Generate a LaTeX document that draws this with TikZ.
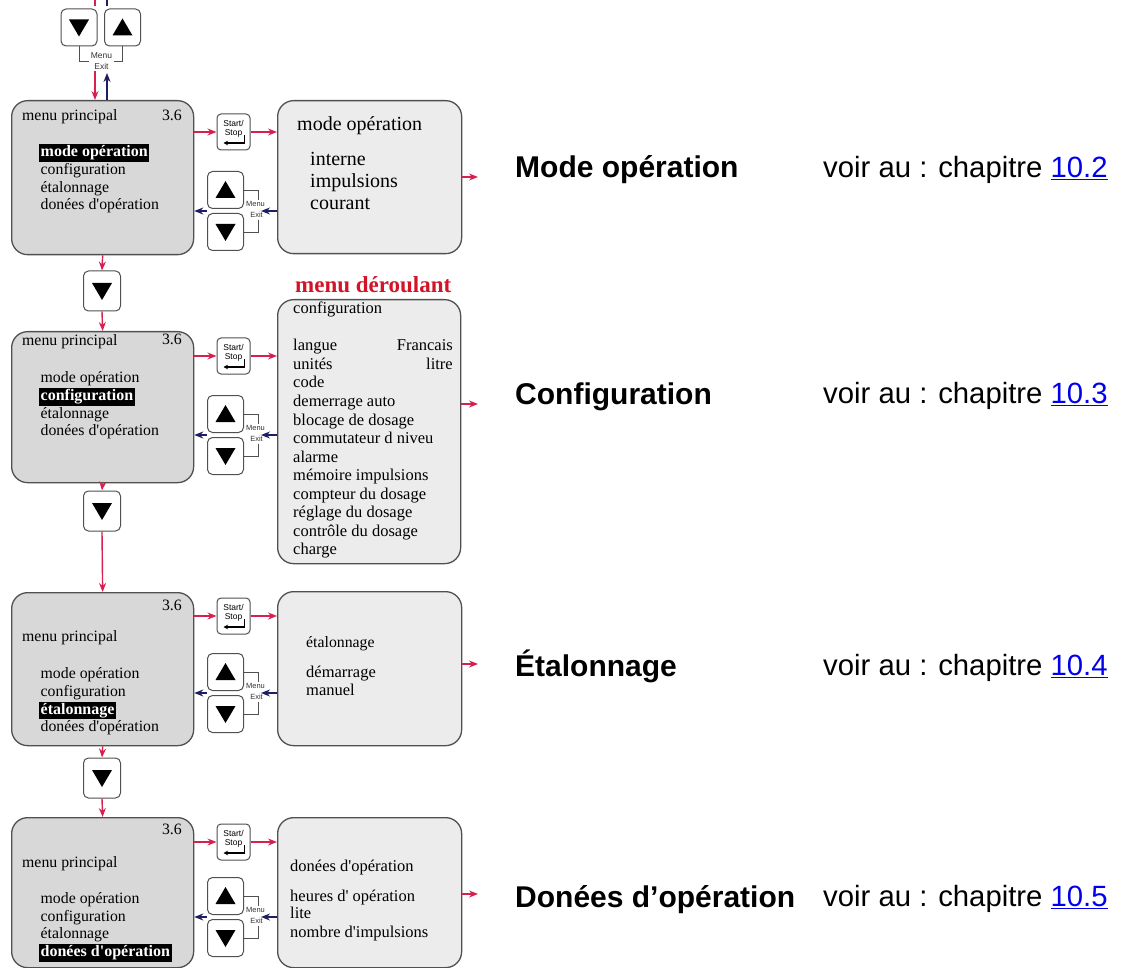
\documentclass[tikz,border=0pt]{standalone}
\usepackage{fontspec}
\setmainfont{Liberation Serif}[Ligatures=TeXOff]
\newfontfamily\arialf{Liberation Sans}
\usetikzlibrary{arrows.meta}

\definecolor{redarr}{RGB}{214,32,78}
\definecolor{bluearr}{RGB}{30,30,100}
\definecolor{boxline}{RGB}{80,80,80}
\definecolor{mainfill}{RGB}{216,216,216}
\definecolor{subfill}{RGB}{236,236,236}
\definecolor{linkblue}{RGB}{0,0,238}
\definecolor{titlered}{RGB}{210,20,40}

\tikzset{
  mainbox/.style={draw=boxline, line width=1.3pt, rounded corners=16pt, fill=mainfill, inner sep=0pt, anchor=north west},
  subbox/.style={draw=boxline, line width=1.3pt, rounded corners=16pt, fill=subfill, inner sep=0pt, anchor=north west},
  btn/.style={draw=boxline, line width=1pt, rounded corners=5pt, fill=white, minimum width=36pt, minimum height=37pt, inner sep=0pt},
  ssbtn/.style={draw=boxline, line width=1pt, rounded corners=4pt, fill=white, minimum width=33pt, minimum height=36pt, inner sep=0pt},
  dnbtn/.style={draw=boxline, line width=1pt, rounded corners=5pt, fill=white, minimum width=37pt, minimum height=40pt, inner sep=0pt},
  redarrow/.style={draw=redarr, line width=1.4pt, -{Stealth[length=9pt,width=7pt]}},
  bluearrow/.style={draw=bluearr, line width=1.4pt, -{Stealth[length=9pt,width=7pt]}},
  brk/.style={draw=boxline, line width=0.8pt},
  mexit/.style={font=\arialf\fontsize{7.5}{8}\selectfont, text=black!80, inner sep=0pt},
  tmexit/.style={font=\arialf\fontsize{8.5}{9}\selectfont, text=black!80, inner sep=0pt},
  sstxt/.style={font=\arialf\fontsize{8.5}{9}\selectfont, inner sep=0pt},
  mtxt/.style={anchor=west, inner sep=0pt, font=\fontsize{15.8}{17}\selectfont, text height=11pt, text depth=3.5pt},
  mnum/.style={anchor=east, inner sep=0pt, font=\fontsize{15.8}{17}\selectfont, text height=11pt, text depth=3.5pt},
  hl/.style={anchor=west, fill=black, text=white, inner xsep=1.5pt, inner ysep=1pt, font=\bfseries\fontsize{16}{17}\selectfont, text height=11.5pt, text depth=4pt},
  bigtxt/.style={anchor=west, inner sep=0pt, font=\fontsize{20}{22}\selectfont, text height=14pt, text depth=4.5pt},
  cfgtxt/.style={anchor=west, inner sep=0pt, font=\fontsize{16.5}{18}\selectfont, text height=11.5pt, text depth=3.5pt},
  cfgr/.style={anchor=east, inner sep=0pt, font=\fontsize{16.5}{18}\selectfont, text height=11.5pt, text depth=3.5pt},
  lbl/.style={anchor=west, inner sep=0pt, font=\arialf\bfseries\fontsize{30}{32}\selectfont, text height=22pt, text depth=6pt},
  ref/.style={anchor=west, inner sep=0pt, font=\arialf\fontsize{29.3}{31}\selectfont, text height=21.5pt, text depth=6pt},
  downtri/.pic={\fill[black] (-10,-8) -- (10,-8) -- (0,9) -- cycle;},
  uptri/.pic={\fill[black] (-10,8) -- (10,8) -- (0,-9) -- cycle;},
  enterarr/.pic={\draw[black, line width=1.3pt, -{Stealth[length=4.5pt,width=4.5pt]}] (11,3) -- (11,11) -- (-10,11);},
}

\begin{document}
\begin{tikzpicture}[x=1pt,y=-1pt]
\useasboundingbox (0,0) rectangle (1122,968);

% ---------------- boxes
\node[mainbox, minimum width=182pt, minimum height=154pt] (m1) at (11,100) {};
\node[subbox,  minimum width=184pt, minimum height=153pt] (p1) at (277,100) {};
\node[mainbox, minimum width=182pt, minimum height=151pt] (m2) at (11,331) {};
\node[subbox,  minimum width=183pt, minimum height=264pt] (p2) at (277,299) {};
\node[mainbox, minimum width=182pt, minimum height=153pt] (m3) at (11,592) {};
\node[subbox,  minimum width=184pt, minimum height=154pt] (p3) at (277,591) {};
\node[mainbox, minimum width=182pt, minimum height=150pt] (m4) at (11,817) {};
\node[subbox,  minimum width=184pt, minimum height=150pt] (p4) at (277,817) {};

% ---------------- top buttons
\node[btn] (td) at (79,27.5) {};
\pic at (td) {downtri};
\node[btn] (tu) at (122.5,27.5) {};
\pic at (tu) {uptri};
\coordinate (tbl) at (89,61);
\coordinate (tbr) at (114,61);
\draw[brk] (td.south) -- (td.south |- tbl) -- (tbl);
\draw[brk] (tu.south) -- (tu.south |- tbr) -- (tbr);
\node[tmexit] (tmenu) at (101.5,56) {Menu};
\node[tmexit] (texit) at (101.5,66.5) {Exit};
\coordinate (tin) at (95,71);
\coordinate (tout) at (107,73);
\draw[redarrow] (tin) -- (tin |- m1.north);
\draw[bluearrow] (tout |- m1.north) -- (tout);
\coordinate (ts1) at (95,0);
\coordinate (ts2) at (95,6);
\coordinate (ts3) at (107,0);
\coordinate (ts4) at (107,6);
\draw[draw=redarr, line width=1.4pt] (ts1) -- (ts2);
\draw[draw=bluearr, line width=1.4pt] (ts3) -- (ts4);

% ---------------- per-row buttons
\foreach \i/\sy/\my in {1/132/211, 2/356/435, 3/616/693, 4/842/917}{
  \node[ssbtn] (ss\i) at (233.5,\sy) {};
  \node[sstxt] (sst\i) at ([yshift=8.5pt]ss\i.center) {Start/};
  \node[sstxt] (ssb\i) at ([yshift=-1.5pt]ss\i.center) {Stop};
  \pic at (ss\i) {enterarr};
  \node[btn] (u\i) at (225.5,\my-21) {};
  \pic at (u\i) {uptri};
  \node[btn] (d\i) at (225.5,\my+21) {};
  \pic at (d\i) {downtri};
  \coordinate (mx\i) at (258,\my);
  \draw[brk] (u\i.east) -- (u\i.east -| mx\i) -- ([yshift=11pt]mx\i);
  \draw[brk] ([yshift=-9pt]mx\i) -- (d\i.east -| mx\i) -- (d\i.east);
  \node[mexit] (me\i) at ([xshift=-2.5pt,yshift=7pt]mx\i) {Menu};
  \node[mexit] (ex\i) at ([xshift=-1.5pt,yshift=-3.5pt]mx\i) {Exit};
  \draw[redarrow] (m\i.east |- ss\i) -- (ss\i.west);
  \draw[redarrow] (ss\i.east) -- (ss\i.east -| p\i.west);
  \draw[bluearrow] (p\i.west |- mx\i) -- ([xshift=3pt]mx\i);
  \draw[bluearrow] (u\i.west |- mx\i) -- (m\i.east |- mx\i);
}

% ---------------- down buttons between rows
\node[dnbtn] (dn1) at (102,291) {};
\pic at (dn1) {downtri};
\node[dnbtn] (dn2) at (102,511) {};
\pic at (dn2) {downtri};
\node[dnbtn] (dn3) at (102,778) {};
\pic at (dn3) {downtri};
\draw[redarrow] (m1.south) -- (dn1.north);
\draw[redarrow] (dn1.south) -- (m2.north);
\draw[redarrow] (m2.south) -- (dn2.north);
\draw[redarrow] (dn2.south) -- (m3.north);
\draw[redarrow] (m3.south) -- (dn3.north);
\draw[redarrow] (dn3.south) -- (m4.north);

% ---------------- right red arrows
\coordinate (r1) at (478,177);
\coordinate (r2) at (478,404);
\coordinate (r3) at (478,664);
\coordinate (r4) at (478,894);
\draw[redarrow] (p1.east |- r1) -- (r1);
\draw[redarrow] (p2.east |- r2) -- (r2);
\draw[redarrow] (p3.east |- r3) -- (r3);
\draw[redarrow] (p4.east |- r4) -- (r4);

% ---------------- main menu texts
% row 1
\node[mtxt] (a1) at (22,117) {menu principal};
\node[mnum] (n1) at (182,117) {3.6};
\node[hl]   (a2) at (39,153) {mode opération};
\node[mtxt] (a3) at (40.5,171) {configuration};
\node[mtxt] (a4) at (40.5,188.5) {étalonnage};
\node[mtxt] (a5) at (40.5,206) {donées d'opération};
% row 2
\node[mtxt] (b1) at (22,342) {menu principal};
\node[mnum] (n2) at (182,341) {3.6};
\node[mtxt] (b2) at (40.5,379) {mode opération};
\node[hl]   (b3) at (39,397) {configuration};
\node[mtxt] (b4) at (40.5,414.5) {étalonnage};
\node[mtxt] (b5) at (40.5,432) {donées d'opération};
% row 3
\node[mnum] (n3) at (182,607) {3.6};
\node[mtxt] (c1) at (22,638) {menu principal};
\node[mtxt] (c2) at (40.5,675) {mode opération};
\node[mtxt] (c3) at (40.5,692.5) {configuration};
\node[hl]   (c4) at (39,710.5) {étalonnage};
\node[mtxt] (c5) at (40.5,728) {donées d'opération};
% row 4
\node[mnum] (n4) at (182,831) {3.6};
\node[mtxt] (e1) at (22,864) {menu principal};
\node[mtxt] (e2) at (40.5,900) {mode opération};
\node[mtxt] (e3) at (40.5,917.5) {configuration};
\node[mtxt] (e4) at (40.5,935) {étalonnage};
\node[hl]   (e5) at (39,953) {donées d'opération};

% ---------------- sub panels texts
\node[bigtxt] (f1) at (297,126) {mode opération};
\node[bigtxt] (f2) at (310,161) {interne};
\node[bigtxt] (f3) at (310,183) {impulsions};
\node[bigtxt] (f4) at (310,205) {courant};

\node[anchor=west, inner sep=0pt, text=titlered, font=\bfseries\fontsize{23}{24}\selectfont] (g0) at (295,285) {menu déroulant};
\node[cfgtxt] (g1) at (293,310) {configuration};
\node[cfgtxt] (g2) at (293,347) {langue};
\node[cfgr]   (g2r) at (453,347) {Francais};
\node[cfgtxt] (g3) at (293,365.5) {unités};
\node[cfgr]   (g3r) at (453,365.5) {litre};
\node[cfgtxt] (g4) at (293,384) {code};
\node[cfgtxt] (g5) at (293,402.5) {demerrage auto};
\node[cfgtxt] (g6) at (293,421) {blocage de dosage};
\node[cfgtxt] (g7) at (293,439.5) {commutateur d niveu};
\node[cfgtxt] (g8) at (293,458) {alarme};
\node[cfgtxt] (g9) at (293,476.5) {mémoire impulsions};
\node[cfgtxt] (g10) at (293,495) {compteur du dosage};
\node[cfgtxt] (g11) at (293,513.5) {réglage du dosage};
\node[cfgtxt] (g12) at (293,532) {contrôle du dosage};
\node[cfgtxt] (g13) at (293,550.5) {charge};

\node[mtxt] (h1) at (306,644) {étalonnage};
\node[cfgtxt] (h2) at (306,673) {démarrage};
\node[cfgtxt] (h3) at (306,691) {manuel};

\node[cfgtxt] (k1) at (290,867) {donées d'opération};
\node[cfgtxt] (k2) at (290,897) {heures d' opération};
\node[cfgtxt] (k3) at (290,914.5) {lite};
\node[cfgtxt] (k4) at (290,933) {nombre d'impulsions};

% ---------------- right labels
\node[lbl] (l1) at (515,170) {Mode opération};
\node[ref] (q1) at (823,170) {voir au : chapitre \textcolor{linkblue}{\underline{10.2}}};
\node[lbl] (l2) at (515,396) {Configuration};
\node[ref] (q2) at (823,396) {voir au : chapitre \textcolor{linkblue}{\underline{10.3}}};
\node[lbl] (l3) at (515,668) {Étalonnage};
\node[ref] (q3) at (823,668) {voir au : chapitre \textcolor{linkblue}{\underline{10.4}}};
\node[lbl] (l4) at (515,899) {Donées d’opération};
\node[ref] (q4) at (823,899) {voir au : chapitre \textcolor{linkblue}{\underline{10.5}}};
\end{tikzpicture}
\end{document}
